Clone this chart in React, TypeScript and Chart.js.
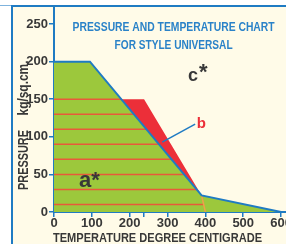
import React, { useEffect, useRef } from 'react';
import { Chart, registerables } from 'chart.js';

Chart.register(...registerables);

// ---- data ----
const xTickValues = [0, 100, 200, 238, 300, 400, 500, 600];
const xTickLabels = ['0', '100', '200', '', '300', '400', '500', '600'];
const yTickValues = [0, 50, 100, 150, 200, 250];
const X_MAX = 613;
const Y_MAX = 274;

// operating envelope (zone a*)
const envelopeX = [0, 95, 390, 600];
const envelopeY = [200, 200, 22, 0];
// zone b (red)
const zoneBX = [178, 238, 390];
const zoneBY = [150, 150, 22];
// temperature limit line (orange)
const limitX = [390, 400];
const limitY = [22, 0];
// hatch levels inside zone a*
const hatchLevels = [10, 30, 50, 70, 90, 110, 130, 150];
// leader line to "b"
const leaderX = [286, 373];
const leaderY = [93, 117];

const TITLE_LINES = ['PRESSURE AND TEMPERATURE CHART', 'FOR STYLE UNIVERSAL'];
const X_TITLE = 'TEMPERATURE DEGREE CENTIGRADE';
const Y_TITLE_UNIT = 'kg/sq.cm.';
const Y_TITLE = 'PRESSURE';

// ---- styles ----
const SANS = "'Liberation Sans', Arial, sans-serif";
const BLUE = '#1f7bc3';
const TITLE_BLUE = '#2a82c8';
const CREAM = '#fffbe8';
const GREEN = '#9cc83c';
const RED = '#ec2f39';
const HATCH = '#e85a3a';
const ORANGE = '#f0a04a';
const TEXT = '#383838';

const pts = (xs: number[], ys: number[]) => xs.map((x, i) => ({ x, y: ys[i] }));

// boundary of hatched region: diagonal of envelope then the limit line
const boundaryX = [envelopeX[1], envelopeX[2], limitX[1]];
const boundaryY = [envelopeY[1], envelopeY[2], limitY[1]];
function boundaryAt(y: number): number {
  for (let i = 0; i < boundaryY.length - 1; i++) {
    const y0 = boundaryY[i], y1 = boundaryY[i + 1];
    if ((y <= y0 && y >= y1) || (y >= y0 && y <= y1)) {
      const t = (y - y0) / (y1 - y0);
      return boundaryX[i] + t * (boundaryX[i + 1] - boundaryX[i]);
    }
  }
  return boundaryX[0];
}

const backgroundPlugin = {
  id: 'bgFrame',
  beforeDraw(chart: any) {
    const { ctx, width, height } = chart;
    ctx.save();
    ctx.fillStyle = '#ffffff';
    ctx.fillRect(0, 0, width, height);
    ctx.fillStyle = CREAM;
    ctx.fillRect(12, 6, width - 12, height - 6);
    ctx.strokeStyle = '#7fb3dd';
    ctx.lineWidth = 1;
    ctx.beginPath();
    ctx.moveTo(0, 5.5);
    ctx.lineTo(12, 5.5);
    ctx.stroke();
    ctx.strokeStyle = BLUE;
    ctx.lineWidth = 2;
    ctx.beginPath();
    ctx.moveTo(12, height);
    ctx.lineTo(12, 6);
    ctx.lineTo(width, 6);
    ctx.stroke();
    ctx.restore();
  },
};

const labelsPlugin = {
  id: 'labelsText',
  afterDraw(chart: any) {
    const { ctx, chartArea } = chart;
    const xs = chart.scales.x;
    const ys = chart.scales.y;
    const px = (v: number) => xs.getPixelForValue(v);
    const py = (v: number) => ys.getPixelForValue(v);
    ctx.save();
    // title (condensed)
    ctx.fillStyle = TITLE_BLUE;
    ctx.font = `bold 12.5px ${SANS}`;
    ctx.textAlign = 'center';
    ctx.textBaseline = 'middle';
    ctx.fillText(TITLE_LINES[0], px(316), py(246), 202);
    ctx.fillText(TITLE_LINES[1], px(316), py(221.5), 118);
    // x axis title
    ctx.fillStyle = TEXT;
    ctx.font = `bold 13.5px ${SANS}`;
    ctx.textAlign = 'left';
    ctx.fillText(X_TITLE, chartArea.left - 1, 238, 209);
    // zone labels
    ctx.textBaseline = 'alphabetic';
    ctx.font = `bold 18px ${SANS}`;
    ctx.fillText('c', px(354), py(174));
    ctx.font = `bold 22px ${SANS}`;
    ctx.fillText('*', px(383), py(176.5));
    ctx.fillText('a*', px(66), py(33));
    ctx.fillStyle = RED;
    ctx.font = `bold 15px ${SANS}`;
    ctx.fillText('b', px(377), py(112));
    // y axis title (rotated, condensed)
    ctx.fillStyle = TEXT;
    ctx.font = `bold 14px ${SANS}`;
    ctx.textAlign = 'center';
    ctx.textBaseline = 'middle';
    ctx.translate(24, 0);
    ctx.rotate(-Math.PI / 2);
    ctx.fillText(Y_TITLE, -160, 0, 60);
    ctx.fillText(Y_TITLE_UNIT, -88, 0, 55);
    ctx.restore();
  },
};

export default function App() {
  const ref = useRef<HTMLCanvasElement>(null);
  useEffect(() => {
    document.body.style.margin = '0';
    const canvas = ref.current!;
    const lineBase = { pointRadius: 0, pointHoverRadius: 0, tension: 0, fill: false };
    const hatchSets = hatchLevels.map((lv) => ({
      ...lineBase,
      data: [{ x: 0, y: lv }, { x: boundaryAt(lv), y: lv }],
      borderColor: HATCH,
      borderWidth: 1.5,
      order: 5,
    }));
    const chart = new Chart(canvas, {
      type: 'line',
      data: {
        datasets: [
          {
            ...lineBase,
            data: pts(envelopeX, envelopeY),
            fill: 'origin',
            backgroundColor: GREEN,
            borderWidth: 0,
            borderColor: 'rgba(0,0,0,0)',
            order: 10,
          },
          {
            ...lineBase,
            data: pts(zoneBX, zoneBY),
            fill: '-1',
            backgroundColor: RED,
            borderWidth: 0,
            borderColor: 'rgba(0,0,0,0)',
            order: 9,
          },
          ...hatchSets,
          {
            ...lineBase,
            data: pts(limitX, limitY),
            borderColor: ORANGE,
            borderWidth: 1.5,
            order: 4,
          },
          {
            ...lineBase,
            data: pts(envelopeX, envelopeY),
            borderColor: BLUE,
            borderWidth: 2,
            order: 1,
          },
          {
            ...lineBase,
            data: pts(leaderX, leaderY),
            borderColor: BLUE,
            borderWidth: 1.5,
            order: 1,
          },
        ] as any,
      },
      options: {
        animation: false,
        responsive: false,
        devicePixelRatio: 1,
        layout: { padding: { left: 0, right: 0, top: 6, bottom: 0 } },
        plugins: { legend: { display: false }, tooltip: { enabled: false }, title: { display: false } },
        scales: {
          x: {
            type: 'linear',
            min: 0,
            max: X_MAX,
            afterBuildTicks: (s: any) => {
              s.ticks = xTickValues.map((v) => ({ value: v }));
            },
            afterFit: (s: any) => {
              s.height = 32;
              s.paddingLeft = 0;
              s.paddingRight = 0;
            },
            ticks: {
              autoSkip: false,
              maxRotation: 0,
              padding: 0,
              color: TEXT,
              font: { family: SANS, size: 13, weight: 'bold', lineHeight: 1 },
              callback: (v: any) => {
                const i = xTickValues.indexOf(Number(v));
                return i >= 0 ? xTickLabels[i] : '';
              },
            },
            grid: { drawOnChartArea: false, drawTicks: true, tickLength: 5, color: BLUE, lineWidth: 1.5 },
            border: { display: true, color: BLUE, width: 2 },
            title: { display: false },
          },
          y: {
            type: 'linear',
            min: 0,
            max: Y_MAX,
            afterBuildTicks: (s: any) => {
              s.ticks = yTickValues.map((v) => ({ value: v }));
            },
            afterFit: (s: any) => {
              s.width = 54;
              s.paddingTop = 0;
              s.paddingBottom = 0;
            },
            ticks: {
              padding: 1,
              color: TEXT,
              font: { family: SANS, size: 13, weight: 'bold' },
            },
            grid: { drawOnChartArea: false, drawTicks: true, tickLength: 5, color: BLUE, lineWidth: 1.5 },
            border: { display: true, color: BLUE, width: 2 },
          },
        },
      } as any,
      plugins: [backgroundPlugin, labelsPlugin],
    });
    return () => chart.destroy();
  }, []);
  return <canvas ref={ref} width={286} height={244} style={{ display: 'block' }} />;
}
